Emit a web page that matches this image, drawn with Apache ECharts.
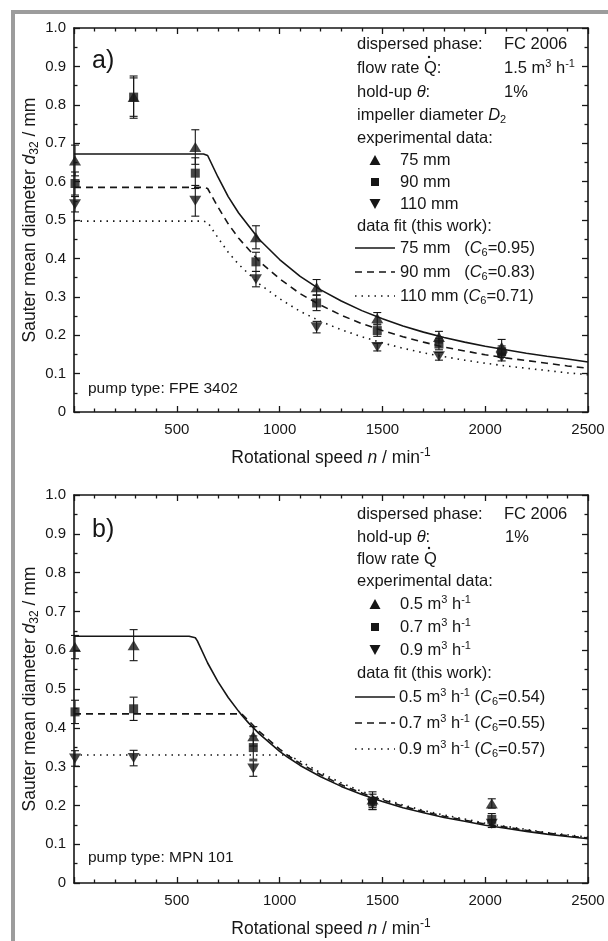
<!DOCTYPE html>
<html>
<head>
<meta charset="utf-8">
<script src="https://cdn.jsdelivr.net/npm/echarts@6/dist/echarts.min.js"></script>
<style>
  html, body { margin: 0; padding: 0; background: #fff; }
  #main { width: 608px; height: 941px; }
</style>
</head>
<body>
<div id="main"></div>
<script>
// ---- panel a) pump FPE 3402, impeller diameters ----
var speedA = [5, 290, 590, 885, 1180, 1475, 1775, 2080];
var d75 = [0.655, 0.82, 0.69, 0.455, 0.325, 0.244, 0.195, 0.169];
var e75 = [0.04, 0.055, 0.045, 0.03, 0.02, 0.015, 0.015, 0.02];
var d90 = [0.595, 0.82, 0.622, 0.391, 0.284, 0.212, 0.177, 0.157];
var e90 = [0.03, 0.05, 0.04, 0.025, 0.02, 0.015, 0.015, 0.015];
var d110 = [0.541, null, 0.55, 0.346, 0.221, 0.169, 0.145, 0.143];
var e110 = [0.02, null, 0.04, 0.02, 0.015, 0.01, 0.01, 0.01];

var fitSpeedA = [0, 630, 650, 700, 750, 800, 900, 1000, 1100, 1200, 1300, 1400, 1500, 1600, 1700, 1800, 1900, 2000, 2100, 2200, 2300, 2400, 2500];
var fit75 = [0.672, 0.672, 0.668, 0.612, 0.561, 0.519, 0.450, 0.397, 0.353, 0.318, 0.289, 0.264, 0.243, 0.224, 0.208, 0.194, 0.182, 0.171, 0.162, 0.153, 0.145, 0.138, 0.130];
var fit90 = [0.585, 0.585, 0.582, 0.534, 0.490, 0.453, 0.393, 0.347, 0.308, 0.278, 0.252, 0.230, 0.212, 0.196, 0.182, 0.169, 0.159, 0.149, 0.141, 0.134, 0.127, 0.120, 0.114];
var fit110 = [0.497, 0.497, 0.494, 0.454, 0.416, 0.385, 0.334, 0.295, 0.262, 0.236, 0.214, 0.196, 0.180, 0.166, 0.154, 0.144, 0.135, 0.127, 0.120, 0.114, 0.108, 0.102, 0.097];

// ---- panel b) pump MPN 101, flow rates ----
var speedB = [5, 290, 872, 1452, 2032];
var q05 = [0.608, 0.613, 0.378, 0.215, 0.205];
var eq05 = [0.03, 0.04, 0.025, 0.02, 0.012];
var q07 = [0.441, 0.449, 0.349, 0.209, 0.164];
var eq07 = [0.03, 0.03, 0.03, 0.02, 0.015];
var q09 = [0.321, 0.322, 0.295, 0.205, 0.153];
var eq09 = [0.02, 0.02, 0.02, 0.015, 0.01];

var fitSpeedB = [0, 560, 590, 600, 650, 700, 750, 800, 815, 850, 900, 1000, 1040, 1100, 1200, 1300, 1400, 1500, 1600, 1700, 1800, 1900, 2000, 2100, 2200, 2300, 2400, 2500];
var fitQ05 = [0.636, 0.636, 0.632, 0.624, 0.567, 0.519, 0.478, 0.443, 0.433, 0.412, 0.385, 0.339, 0.324, 0.303, 0.274, 0.249, 0.228, 0.210, 0.194, 0.181, 0.169, 0.159, 0.149, 0.141, 0.133, 0.126, 0.120, 0.114];
var fitQ07 = [0.436, 0.436, 0.436, 0.436, 0.436, 0.436, 0.436, 0.436, 0.436, 0.418, 0.391, 0.345, 0.329, 0.308, 0.279, 0.253, 0.232, 0.214, 0.198, 0.184, 0.172, 0.162, 0.152, 0.144, 0.136, 0.129, 0.122, 0.116];
var fitQ09 = [0.330, 0.330, 0.330, 0.330, 0.330, 0.330, 0.330, 0.330, 0.330, 0.330, 0.330, 0.330, 0.330, 0.314, 0.284, 0.258, 0.236, 0.217, 0.201, 0.187, 0.175, 0.165, 0.154, 0.146, 0.138, 0.130, 0.124, 0.118];

var yTicks = [0, 0.1, 0.2, 0.3, 0.4, 0.5, 0.6, 0.7, 0.8, 0.9, 1.0];
var xTicks = [500, 1000, 1500, 2000, 2500];

var INK = '#161616';
var FONT = 'Liberation Sans, Arial, sans-serif';
var DASH = [7, 5];
var DOT = [1.5, 5];

function zip(xs, ys) {
  var out = [];
  for (var i = 0; i < xs.length; i++) {
    if (ys[i] != null) out.push([xs[i], ys[i]]);
  }
  return out;
}
function zip3(xs, ys, es) {
  var out = [];
  for (var i = 0; i < xs.length; i++) {
    if (ys[i] != null) out.push([xs[i], ys[i], es[i]]);
  }
  return out;
}

function errRender(params, api) {
  var x = api.value(0), y = api.value(1), e = api.value(2);
  var hi = api.coord([x, y + e]);
  var lo = api.coord([x, y - e]);
  var w = 4;
  var st = { stroke: INK, lineWidth: 1.1 };
  return {
    type: 'group',
    children: [
      { type: 'line', shape: { x1: hi[0], y1: hi[1], x2: lo[0], y2: lo[1] }, style: st },
      { type: 'line', shape: { x1: hi[0] - w, y1: hi[1], x2: hi[0] + w, y2: hi[1] }, style: st },
      { type: 'line', shape: { x1: lo[0] - w, y1: lo[1], x2: lo[0] + w, y2: lo[1] }, style: st }
    ]
  };
}

function errSeries(xs, ys, es, xi, yi) {
  return {
    type: 'custom', xAxisIndex: xi, yAxisIndex: yi,
    renderItem: errRender, encode: { x: 0, y: 1 },
    data: zip3(xs, ys, es), z: 3, silent: true
  };
}
function ptSeries(xs, ys, sym, size, rot, xi, yi) {
  return {
    type: 'scatter', xAxisIndex: xi, yAxisIndex: yi,
    symbol: sym, symbolSize: size, symbolRotate: rot || 0,
    itemStyle: { color: INK }, data: zip(xs, ys), z: 4, silent: true
  };
}
function fitSeries(xs, ys, dash, xi, yi) {
  return {
    type: 'line', xAxisIndex: xi, yAxisIndex: yi, showSymbol: false,
    smooth: false, lineStyle: { color: INK, width: 1.6, type: dash },
    data: zip(xs, ys), z: 2, silent: true
  };
}

var rich = {
  n: { fontSize: 16.5, fontFamily: FONT, color: INK, lineHeight: 20 },
  i: { fontSize: 16.5, fontFamily: FONT, color: INK, fontStyle: 'italic', lineHeight: 20 },
  sub: { fontSize: 11, fontFamily: FONT, color: INK, lineHeight: 12, verticalAlign: 'bottom' },
  sup: { fontSize: 11, fontFamily: FONT, color: INK, lineHeight: 12, verticalAlign: 'top' }
};
var nameRich = {
  n: { fontSize: 17.5, fontFamily: FONT, color: INK, lineHeight: 22 },
  i: { fontSize: 17.5, fontFamily: FONT, color: INK, fontStyle: 'italic', lineHeight: 22 },
  sub: { fontSize: 12, fontFamily: FONT, color: INK, lineHeight: 13, verticalAlign: 'bottom' },
  sup: { fontSize: 12, fontFamily: FONT, color: INK, lineHeight: 13, verticalAlign: 'top' }
};

function xBottom(grid) {
  return {
    type: 'value', gridIndex: grid, position: 'bottom', min: 0, max: 2500, interval: 500,
    axisLine: { show: true, onZero: false, lineStyle: { color: INK, width: 1.6 } },
    axisTick: { show: true, inside: true, length: 6, lineStyle: { color: INK, width: 1.3 } },
    minorTick: { show: true, splitNumber: 5, length: 3.5, lineStyle: { color: INK, width: 1.3 } },
    splitLine: { show: false },
    axisLabel: {
      margin: 10, fontSize: 15, fontFamily: FONT, color: INK,
      formatter: function (v) { return xTicks.indexOf(v) >= 0 ? String(v) : ''; }
    },
    name: '{n|Rotational speed }{i|n}{n| / min}{sup|-1}',
    nameLocation: 'middle', nameGap: 35,
    nameTextStyle: { rich: nameRich }
  };
}
function xTop(grid) {
  return {
    type: 'value', gridIndex: grid, position: 'top', min: 0, max: 2500, interval: 500,
    axisLine: { show: true, onZero: false, lineStyle: { color: INK, width: 1.6 } },
    axisTick: { show: true, inside: true, length: 6, lineStyle: { color: INK, width: 1.3 } },
    minorTick: { show: true, splitNumber: 5, length: 3.5, lineStyle: { color: INK, width: 1.3 } },
    splitLine: { show: false }, axisLabel: { show: false }
  };
}
function yLeft(grid) {
  return {
    type: 'value', gridIndex: grid, position: 'left', min: 0, max: 1, interval: 0.1,
    axisLine: { show: true, onZero: false, lineStyle: { color: INK, width: 1.6 } },
    axisTick: { show: true, inside: true, length: 6, lineStyle: { color: INK, width: 1.3 } },
    minorTick: { show: true, splitNumber: 2, length: 3.5, lineStyle: { color: INK, width: 1.3 } },
    splitLine: { show: false },
    axisLabel: {
      margin: 8, fontSize: 15, fontFamily: FONT, color: INK,
      formatter: function (v) {
        for (var k = 0; k < yTicks.length; k++) {
          if (Math.abs(yTicks[k] - v) < 1e-6) return yTicks[k] === 0 ? '0' : yTicks[k].toFixed(1);
        }
        return '';
      }
    },
    name: '{n|Sauter mean diameter }{i|d}{sub|32}{n| / mm}',
    nameLocation: 'middle', nameGap: 33, nameMoveOverlap: false,
    nameTextStyle: { rich: nameRich }
  };
}
function yRight(grid) {
  return {
    type: 'value', gridIndex: grid, position: 'right', min: 0, max: 1, interval: 0.1,
    axisLine: { show: true, onZero: false, lineStyle: { color: INK, width: 1.6 } },
    axisTick: { show: true, inside: true, length: 6, lineStyle: { color: INK, width: 1.3 } },
    minorTick: { show: true, splitNumber: 2, length: 3.5, lineStyle: { color: INK, width: 1.3 } },
    splitLine: { show: false }, axisLabel: { show: false }
  };
}

// text rows for the in-plot key
function txt(x, y, s, extra) {
  var st = { text: s, rich: rich, fill: INK, font: '16.5px ' + FONT, verticalAlign: 'middle' };
  if (extra) for (var k in extra) st[k] = extra[k];
  return { type: 'text', x: x, y: y, style: st, z: 10 };
}
function dot(cx, cy) {
  return { type: 'circle', shape: { cx: cx, cy: cy, r: 1.2 }, style: { fill: INK }, z: 10 };
}
function tri(cx, cy, down) {
  var h = 10, w = 5.5;
  var pts = down ? [[cx - w, cy - h / 2], [cx + w, cy - h / 2], [cx, cy + h / 2]]
                 : [[cx - w, cy + h / 2], [cx + w, cy + h / 2], [cx, cy - h / 2]];
  return { type: 'polygon', shape: { points: pts }, style: { fill: INK }, z: 10 };
}
function sq(cx, cy) {
  return { type: 'rect', shape: { x: cx - 4, y: cy - 4, width: 8, height: 8 }, style: { fill: INK }, z: 10 };
}
function seg(x1, x2, y, dash) {
  return { type: 'line', shape: { x1: x1, y1: y, x2: x2, y2: y },
    style: { stroke: INK, lineWidth: 1.5, lineDash: dash }, z: 10 };
}

var keyA = [
  txt(357, 44, 'dispersed phase:'), txt(504, 44, 'FC 2006'),
  txt(357, 68, 'flow rate Q:'), dot(429, 57), txt(504, 68, '{n|1.5 m}{sup|3}{n| h}{sup|-1}'),
  txt(357, 92, '{n|hold-up }{i|\u03b8}{n|:}'), txt(504, 92, '1%'),
  txt(357, 115, '{n|impeller diameter }{i|D}{sub|2}'),
  txt(357, 138, 'experimental data:'),
  tri(375, 160, false), txt(400, 160, '75 mm'),
  sq(375, 182), txt(400, 182, '90 mm'),
  tri(375, 204, true), txt(400, 204, '110 mm'),
  txt(357, 226, 'data fit (this work):'),
  seg(355, 395, 248, null), txt(400, 248, '{n|75 mm   (}{i|C}{sub|6}{n|=0.95)}'),
  seg(355, 395, 272, DASH), txt(400, 272, '{n|90 mm   (}{i|C}{sub|6}{n|=0.83)}'),
  seg(355, 395, 296, DOT), txt(400, 296, '{n|110 mm (}{i|C}{sub|6}{n|=0.71)}')
];
var keyB = [
  txt(357, 514, 'dispersed phase:'), txt(504, 514, 'FC 2006'),
  txt(357, 537, '{n|hold-up }{i|\u03b8}{n|:}'), txt(505, 537, '1%'),
  txt(357, 559, 'flow rate Q'), dot(429, 548),
  txt(357, 581, 'experimental data:'),
  tri(375, 604, false), txt(400, 604, '{n|0.5 m}{sup|3}{n| h}{sup|-1}'),
  sq(375, 627), txt(400, 627, '{n|0.7 m}{sup|3}{n| h}{sup|-1}'),
  tri(375, 650, true), txt(400, 650, '{n|0.9 m}{sup|3}{n| h}{sup|-1}'),
  txt(357, 673, 'data fit (this work):'),
  seg(355, 395, 697, null), txt(399, 697, '{n|0.5 m}{sup|3}{n| h}{sup|-1}{n| (}{i|C}{sub|6}{n|=0.54)}'),
  seg(355, 395, 723, DASH), txt(399, 723, '{n|0.7 m}{sup|3}{n| h}{sup|-1}{n| (}{i|C}{sub|6}{n|=0.55)}'),
  seg(355, 395, 749, DOT), txt(399, 749, '{n|0.9 m}{sup|3}{n| h}{sup|-1}{n| (}{i|C}{sub|6}{n|=0.57)}')
];

var frame = [
  { type: 'rect', shape: { x: 11, y: 10, width: 597, height: 4 }, style: { fill: '#9c9c9c' }, z: 1 },
  { type: 'rect', shape: { x: 11, y: 10, width: 4, height: 931 }, style: { fill: '#9c9c9c' }, z: 1 }
];
var labels = [
  txt(92, 61, 'a)', { font: '25px ' + FONT }),
  txt(92, 530, 'b)', { font: '25px ' + FONT }),
  txt(88, 389, 'pump type: FPE 3402', { font: '15.5px ' + FONT }),
  txt(88, 858, 'pump type: MPN 101', { font: '15.5px ' + FONT })
];

var chart = echarts.init(document.getElementById('main'), null, { renderer: 'canvas' });
chart.setOption({
  animation: false,
  backgroundColor: '#fff',
  grid: [
    { left: 74, top: 28, width: 514, height: 384 },
    { left: 74, top: 495, width: 514, height: 388 }
  ],
  xAxis: [xBottom(0), xTop(0), xBottom(1), xTop(1)],
  yAxis: [yLeft(0), yRight(0), yLeft(1), yRight(1)],
  graphic: frame.concat(labels, keyA, keyB),
  series: [
    fitSeries(fitSpeedA, fit75, 'solid', 0, 0),
    fitSeries(fitSpeedA, fit90, DASH, 0, 0),
    fitSeries(fitSpeedA, fit110, DOT, 0, 0),
    errSeries(speedA, d75, e75, 0, 0),
    errSeries(speedA, d90, e90, 0, 0),
    errSeries(speedA, d110, e110, 0, 0),
    ptSeries(speedA, d75, 'triangle', [12, 10], 0, 0, 0),
    ptSeries(speedA, d90, 'rect', 9, 0, 0, 0),
    ptSeries(speedA, d110, 'triangle', [12, 10], 180, 0, 0),

    fitSeries(fitSpeedB, fitQ05, 'solid', 2, 2),
    fitSeries(fitSpeedB, fitQ07, DASH, 2, 2),
    fitSeries(fitSpeedB, fitQ09, DOT, 2, 2),
    errSeries(speedB, q05, eq05, 2, 2),
    errSeries(speedB, q07, eq07, 2, 2),
    errSeries(speedB, q09, eq09, 2, 2),
    ptSeries(speedB, q05, 'triangle', [12, 10], 0, 2, 2),
    ptSeries(speedB, q07, 'rect', 9, 0, 2, 2),
    ptSeries(speedB, q09, 'triangle', [12, 10], 180, 2, 2)
  ]
});
</script>
</body>
</html>
